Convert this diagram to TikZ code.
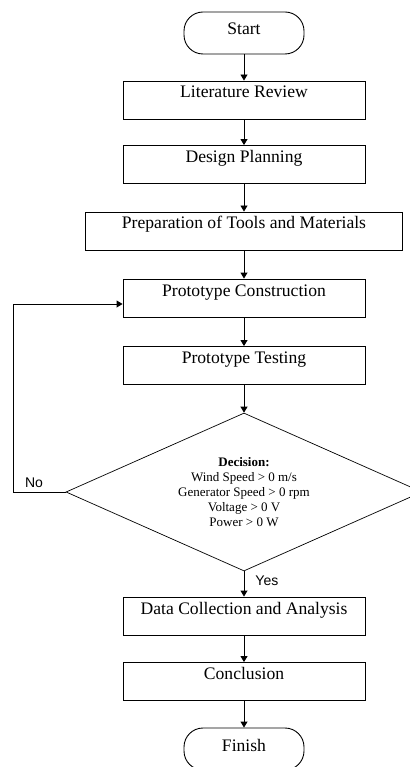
\documentclass[tikz,border=0pt]{standalone}
\usepackage{fontspec}
\setmainfont{Liberation Serif}
\setsansfont{Liberation Sans}
\usetikzlibrary{arrows.meta,shapes.geometric}

\begin{document}
\begin{tikzpicture}[
    x=1pt, y=-1pt,
    line width=0.9pt,
    every node/.style={font=\fontsize{17.6}{20}\selectfont},
    procbox/.style={draw, minimum width=242pt, inner xsep=0pt, inner ysep=0pt,
      text height=17pt, text depth=21pt},
    term/.style={draw, rounded corners=19pt, minimum width=120pt, inner xsep=0pt,
      inner ysep=0pt, text height=23pt, text depth=19pt},
    decide/.style={draw, diamond, aspect=2.25, line width=0.7pt, minimum width=356pt,
      minimum height=158pt, inner sep=0pt, align=center,
      font=\fontsize{13}{15}\selectfont},
    lbl/.style={font=\sffamily\fontsize{14}{16}\selectfont, inner sep=0pt},
    flow/.style={-{Triangle[length=6pt,width=7pt]}},
  ]
  \useasboundingbox (0,0) rectangle (409,767);

  % Main column of steps
  \node[term] (start) at (244,33) {Start};
  \node[procbox] (lit) at (244,100) {Literature Review};
  \node[procbox] (plan) at (244,164.5) {Design Planning};
  \node[procbox, minimum width=317pt] (prep) at (244,231) {Preparation of Tools and Materials};
  \node[procbox] (build) at (244,298) {Prototype Construction};
  \node[procbox] (test) at (244,365.5) {Prototype Testing};
  \node[decide] (dec) at (244,492) {\textbf{Decision:}\\Wind Speed > 0 m/s\\Generator Speed > 0 rpm\\Voltage > 0 V\\Power > 0 W};
  \node[procbox] (data) at (244,616) {Data Collection and Analysis};
  \node[procbox] (concl) at (244,681.5) {Conclusion};
  \node[term] (finish) at (244,749) {Finish};

  % Arrows down the column
  \draw[flow] (start) -- (lit);
  \draw[flow] (lit) -- (plan);
  \draw[flow] (plan) -- (prep);
  \draw[flow] (prep) -- (build);
  \draw[flow] (build) -- (test);
  \draw[flow] (test) -- (dec);
  \draw[flow] (dec) -- (data);
  \draw[flow] (data) -- (concl);
  \draw[flow] (concl) -- (finish);

  % Labels of the two branches
  \node[lbl, anchor=west] (yes) at (255,581) {Yes};
  \node[lbl, anchor=south] (no) at (34,488) {No};

  % Loop back when the test fails
  \coordinate (back) at (13,304);
  \draw[flow] (dec.west) -- (dec.west -| back) -- (back) -- (back -| build.west);
\end{tikzpicture}
\end{document}
